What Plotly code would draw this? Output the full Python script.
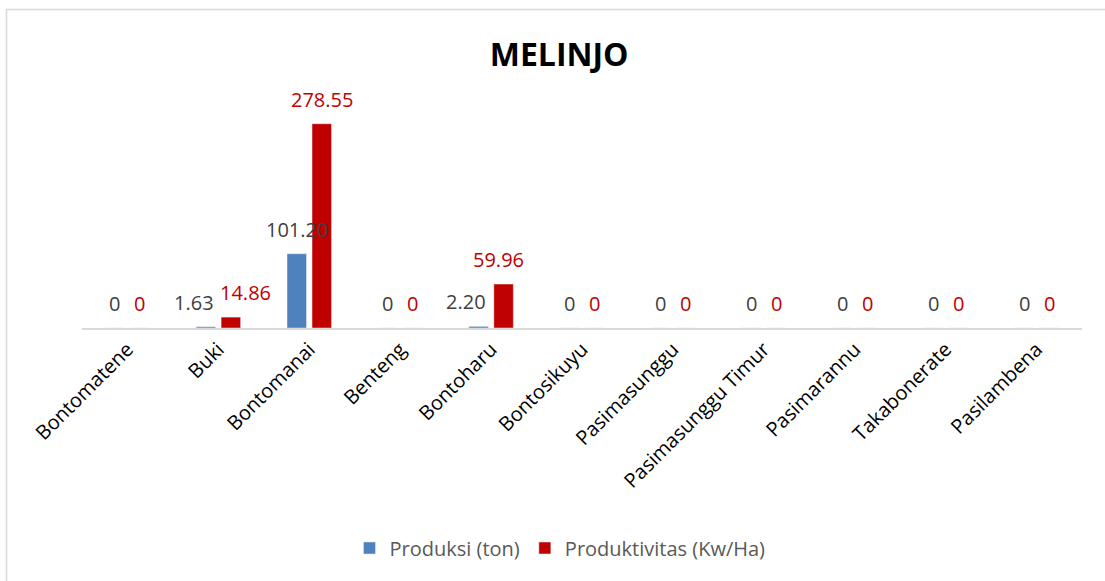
import plotly.graph_objects as go

# data
kecamatan = ['Bontomatene', 'Buki', 'Bontomanai', 'Benteng', 'Bontoharu', 'Bontosikuyu',
             'Pasimasunggu', 'Pasimasunggu Timur', 'Pasimarannu', 'Takabonerate', 'Pasilambena']
produksi = [0, 1.63, 101.20, 0, 2.20, 0, 0, 0, 0, 0, 0]
produktivitas = [0, 14.86, 278.55, 0, 59.96, 0, 0, 0, 0, 0, 0]

# small horizontal nudges for labels that were moved apart in the original
geser_produksi = [0, -12, 0, 0, -13, 0, 0, 0, 0, 0, 0]
geser_produktivitas = [0, 15, 0, 0, -5, 0, 0, 0, 0, 0, 0]


def fmt(v):
    return '0' if v == 0 else f'{v:.2f}'


FONT = 'Open Sans'
BAR_OFFSET = 12.5  # px from category centre to each bar centre

fig = go.Figure()

fig.add_trace(go.Bar(
    x=kecamatan, y=produksi, name='Produksi (ton)',
    marker=dict(color='#4F81BD'), cliponaxis=False,
))
fig.add_trace(go.Bar(
    x=kecamatan, y=produktivitas, name='Produktivitas (Kw/Ha)',
    marker=dict(color='#C00000'), cliponaxis=False,
))

# label data
annotations = []
for k, v, g in zip(kecamatan, produksi, geser_produksi):
    annotations.append(dict(x=k, y=v, text=fmt(v), showarrow=False, yanchor='bottom',
                            xshift=-BAR_OFFSET + g, yshift=9,
                            font=dict(family=FONT, size=20, color='#404040')))
for k, v, g in zip(kecamatan, produktivitas, geser_produktivitas):
    annotations.append(dict(x=k, y=v, text=fmt(v), showarrow=False, yanchor='bottom',
                            xshift=BAR_OFFSET + g, yshift=9,
                            font=dict(family=FONT, size=20, color='#C00000')))

fig.update_layout(
    width=1105, height=581,
    title=dict(text='<b>MELINJO</b>', x=0.506, xanchor='center', y=0.905, yanchor='middle',
               font=dict(family=FONT, size=32, color='#000000')),
    barmode='group', bargap=0.45, bargroupgap=0.22,
    plot_bgcolor='white', paper_bgcolor='white',
    margin=dict(l=82, r=23, t=108, b=253),
    xaxis=dict(showline=True, linecolor='#D9D9D9', linewidth=1.5, ticks='',
               tickangle=-45, tickfont=dict(family=FONT, size=20, color='#000000')),
    yaxis=dict(range=[0, 300], visible=False),
    legend=dict(orientation='h', x=0.478, xanchor='center', y=-1.0, yanchor='middle',
                font=dict(family=FONT, size=20, color='#595959'), itemwidth=30),
    annotations=annotations,
    shapes=[dict(type='rect', xref='paper', yref='paper',
                 x0=-0.0755, x1=1.05, y0=-1.3, y1=1.4477,
                 line=dict(color='#D9D9D9', width=1.5), fillcolor='rgba(0,0,0,0)', layer='below')],
)

fig.write_html('out.html', config={'displayModeBar': False},
               post_script="document.body.style.margin='0';")
